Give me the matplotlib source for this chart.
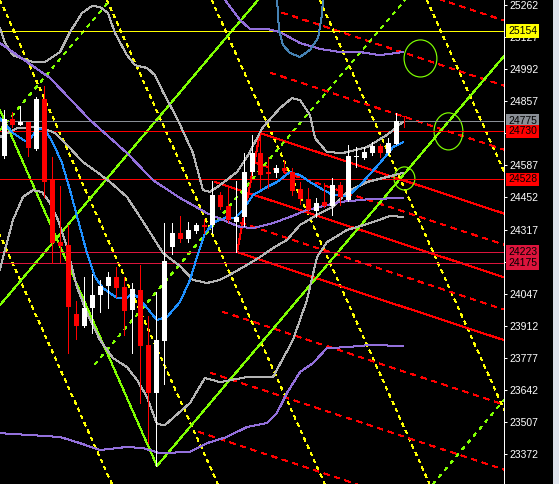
import matplotlib
matplotlib.use("Agg")
import matplotlib.pyplot as plt
from matplotlib.patches import Ellipse, Rectangle

# price range shown and bar range
top_price = 25283
bottom_price = 23246
first_bar = -0.56
last_bar = 62.44

# ---- candles (bar 50 is the forming bar) ----
opens = [24626, 24782, 24757, 24770, 24656, 24866, 24525, 24264, 24252, 23961,
         23911, 23987, 24041, 24079, 24117, 24075, 23978, 24062, 23831, 23629,
         23848, 24243, 24302, 24277, 24311, 24336, 24336, 24462, 24416, 24349,
         24370, 24559, 24639, 24559, 24555, 24576, 24559, 24487, 24445, 24395,
         24433, 24416, 24504, 24441, 24622, 24618, 24639, 24668, 24639, 24677,
         24795]
highs = [24820, 24812, 24837, 24770, 24875, 24921, 24622, 24500, 24336, 24016,
         24117, 24130, 24105, 24138, 24159, 24117, 24092, 24168, 23953, 24054,
         24344, 24344, 24374, 24349, 24344, 24361, 24521, 24475, 24492, 24521,
         24639, 24715, 24723, 24622, 24589, 24610, 24576, 24517, 24492, 24450,
         24513, 24534, 24517, 24673, 24664, 24664, 24685, 24677, 24702, 24807,
         24795]
lows = [24620, 24748, 24757, 24626, 24652, 24454, 24176, 24180, 23797, 23856,
        23907, 23881, 23970, 23987, 24033, 23873, 23797, 23587, 23418, 23322,
        23667, 24214, 24264, 24264, 24302, 24302, 24302, 24403, 24349, 24222,
        24332, 24546, 24492, 24492, 24538, 24555, 24462, 24424, 24386, 24370,
        24412, 24378, 24420, 24437, 24580, 24614, 24631, 24622, 24635, 24677,
        24748]
closes = [24782, 24757, 24770, 24660, 24866, 24517, 24260, 24248, 23991, 23911,
          23987, 24041, 24079, 24117, 24071, 23974, 24067, 23827, 23629, 23852,
          24185, 24302, 24277, 24315, 24336, 24328, 24462, 24412, 24357, 24370,
          24559, 24639, 24546, 24551, 24576, 24563, 24479, 24445, 24399, 24429,
          24416, 24504, 24454, 24626, 24626, 24643, 24668, 24639, 24681, 24774,
          24791]

# ---- indicator lines (bar, price) ----
bb_up_x = [-0.56, 0.06, 1.06, 3.56, 5.06, 6.94, 8.19, 9.69, 10.94, 11.94, 12.94, 13.81,
           15.31, 16.31, 17.81, 18.81, 19.81, 21.56, 23.56, 24.81, 25.69, 26.94, 29.06,
           30.31, 32.31, 34.44, 35.94, 36.94, 38.19, 38.81, 40.31, 42.31, 45.31, 47.81, 49.81]
bb_up_y = [25165, 25102, 25051, 25022, 25022, 25064, 25148, 25228, 25258, 25254, 25228, 25144,
           25051, 25009, 24997, 24967, 24896, 24786, 24639, 24483, 24475, 24504, 24559,
           24622, 24748, 24828, 24870, 24862, 24799, 24702, 24643, 24639, 24664, 24715, 24770]

bb_mid_x = [-0.56, 1.56, 3.56, 4.81, 6.31, 7.81, 9.81, 11.56, 13.19, 15.31, 16.94, 18.56,
            19.81, 21.94, 23.56, 25.31, 26.94, 28.56, 30.31, 31.94, 33.56, 35.31, 36.94,
            39.44, 41.06, 42.81, 45.31, 47.81, 49.81]
bb_mid_y = [24706, 24744, 24748, 24744, 24723, 24673, 24601, 24559, 24517, 24454, 24370, 24285,
            24218, 24163, 24105, 24092, 24105, 24134, 24168, 24201, 24239, 24273, 24336,
            24386, 24412, 24475, 24517, 24538, 24555]

bb_low_x = [-0.56, 0.06, 1.06, 2.31, 3.56, 4.69, 5.69, 6.69, 7.81, 9.06, 10.31, 11.94, 13.56,
            15.31, 16.56, 17.81, 19.06, 20.06, 21.06, 23.19, 25.06, 26.94, 30.31, 33.56,
            36.06, 37.81, 39.06, 40.31, 42.81, 45.69, 48.19, 49.81]
bb_low_y = [24147, 24231, 24357, 24454, 24483, 24475, 24429, 24357, 24243, 24075, 23966, 23852, 23776,
            23738, 23684, 23612, 23498, 23494, 23524, 23587, 23692, 23675, 23696, 23696,
            23852, 24020, 24201, 24264, 24315, 24344, 24374, 24370]

ma_x = [-0.56, 1.06, 2.56, 2.94, 3.56, 4.19, 5.06, 6.06, 7.19, 8.19, 9.19, 10.31, 11.31, 12.31,
        14.06, 15.31, 15.94, 16.69, 17.81, 19.06, 20.31, 21.94, 23.19, 24.06, 25.06, 26.31,
        27.81, 28.81, 29.81, 31.06, 32.81, 34.06, 35.69, 36.94, 38.19, 39.44, 41.06, 42.94,
        44.44, 46.94, 48.56, 49.81]
ma_y = [24786, 24723, 24690, 24685, 24715, 24740, 24740, 24681, 24597, 24483, 24357, 24218, 24117, 24071,
        24029, 24029, 24046, 24033, 23987, 23936, 23949, 24012, 24105, 24201, 24302, 24349,
        24370, 24365, 24399, 24462, 24496, 24517, 24559, 24546, 24517, 24492, 24462, 24458,
        24504, 24597, 24664, 24685]

long_mid_x = [-0.56, 2.81, 5.69, 10.69, 15.31, 18.56, 21.94, 25.31, 27.31, 29.44, 31.06, 33.56,
              35.69, 37.81, 40.31, 41.94, 45.69, 49.81]
long_mid_y = [25102, 25022, 24955, 24778, 24639, 24525, 24450, 24386, 24357, 24328, 24323, 24344,
              24370, 24399, 24420, 24433, 24445, 24450]

long_up_x = [26.69, 27.56, 29.44, 30.69, 32.81, 34.44, 36.94, 39.44, 41.94, 44.44, 46.94, 49.81]
long_up_y = [25346, 25283, 25199, 25161, 25161, 25148, 25102, 25077, 25064, 25064, 25051, 25064]

long_low_x = [-0.56, 3.19, 6.94, 9.44, 11.94, 15.31, 17.31, 19.44, 23.19, 25.31, 27.81, 30.31,
              32.81, 34.06, 35.31, 36.94, 38.56, 40.31, 42.81, 45.69, 49.81]
long_low_y = [23460, 23452, 23444, 23418, 23389, 23402, 23397, 23376, 23381, 23418, 23444, 23486,
              23503, 23545, 23629, 23717, 23755, 23818, 23822, 23831, 23827]

steel_x = [34.06, 34.31, 34.81, 35.69, 36.94, 38.19, 39.19, 39.69, 39.81]
steel_y = [25291, 25157, 25094, 25060, 25043, 25073, 25123, 25220, 25291]

# ---- drawn objects ----
levels = [25154, 24775, 24730, 24528, 24223, 24175]
level_colors = ['#ffff00', '#8a8f96', '#ff0000', '#ff0000', '#dc143c', '#dc143c']

# yellow dotted fan: bar where each line leaves the top edge, price drop per bar
yellow_top_x = [-13.8, -0.56, 12.8, 25.9, 39.4, 52.8]
yellow_drop = 74.8

# red channel: start points and price change per bar
red_slope = -11.1
red_dash_x = [36.3, 34.7, 33.25, 31.0, 29.5, 27.26, 25.74, 24.26]
red_dash_p = [25487, 25230, 24977, 24602, 24346, 23971, 23714, 23465]
red_solid_x = [31.94, 26.31, 29.06]
red_solid_p = [24723, 24517, 24222]
red_pivot_x = [29.06, 31.94]
red_pivot_p = [24222, 24723]

# green lines: (bar1, price1, bar2, price2)
green_solid = [(-0.56, 24820, 19.06, 23322),
               (-0.56, 23999, 31.69, 25283),
               (19.06, 23322, 62.44, 25047)]
green_dashed = [(-0.56, 24736, 13.19, 25283),
                (11.31, 23751, 50.06, 25283),
                (53.56, 23246, 62.44, 23599)]

circle_x = [52.0, 55.5, 50.0]
circle_p = [25037, 24730, 24532]
circle_w = [4.1, 3.6, 2.6]
circle_h = [156, 156, 97]

ticks = [25262, 25127, 24992, 24857, 24722, 24587, 24452, 24317, 24182,
         24047, 23912, 23777, 23642, 23507, 23372]
# 24722 and 24182 sit fully under the price tags
tick_labels = ['25262', '25127', '24992', '24857', '', '24587', '24452', '24317', '',
               '24047', '23912', '23777', '23642', '23507', '23372']

plt.rcParams['lines.scale_dashes'] = False
plt.rcParams['lines.antialiased'] = False
plt.rcParams['patch.antialiased'] = False
plt.rcParams['font.family'] = ['Liberation Sans', 'DejaVu Sans']

fig = plt.figure(figsize=(5.59, 4.84), dpi=100, facecolor='black')
ax = fig.add_axes([0, 0, 504 / 559, 1])
ax.set_facecolor('black')
fig.add_artist(Rectangle((553 / 559, 0), 6 / 559, 1, transform=fig.transFigure,
                         fc='#dfe4ec', ec='none'))

px = 0.72  # one pixel in points

# horizontal levels
for lv, col in zip(levels, level_colors):
    ax.axhline(lv, color=col, lw=px, zorder=2)

# yellow dotted lines
for xt in yellow_top_x:
    xb = xt + (top_price - bottom_price) / yellow_drop
    ax.plot([xt, xb], [top_price, bottom_price], color='#ffff00', lw=px,
            ls=(0, (2.2, 2.9)), zorder=1)

# red channel
for xs, ps in zip(red_dash_x, red_dash_p):
    ax.plot([xs, last_bar], [ps, ps + red_slope * (last_bar - xs)], color='#ff0000',
            lw=px, ls=(0, (3.6, 3.6)), zorder=1)
for xs, ps in zip(red_solid_x, red_solid_p):
    ax.plot([xs, last_bar], [ps, ps + red_slope * (last_bar - xs)], color='#ff0000',
            lw=px, zorder=1)
ax.plot(red_pivot_x, red_pivot_p, color='#ff0000', lw=px, zorder=1)

# green lines
for x1, p1, x2, p2 in green_solid:
    ax.plot([x1, x2], [p1, p2], color='#7fff00', lw=px, zorder=1)
for x1, p1, x2, p2 in green_dashed:
    ax.plot([x1, x2], [p1, p2], color='#7fff00', lw=px, ls=(0, (2.2, 3.6)), zorder=1)
for cx, cp, w, h in zip(circle_x, circle_p, circle_w, circle_h):
    ax.add_patch(Ellipse((cx, cp), w, h, fill=False, ec='#7fff00', lw=px * 1.2, zorder=1,
                         antialiased=True))

# indicators
ax.plot(bb_up_x, bb_up_y, color='#b4b4b4', lw=px, zorder=2)
ax.plot(bb_mid_x, bb_mid_y, color='#b4b4b4', lw=px, zorder=2)
ax.plot(bb_low_x, bb_low_y, color='#b4b4b4', lw=px, zorder=2)
ax.plot(ma_x, ma_y, color='#1e90ff', lw=px, zorder=2)
ax.plot(long_mid_x, long_mid_y, color='#9370db', lw=px, zorder=2)
ax.plot(long_up_x, long_up_y, color='#9370db', lw=px, zorder=2)
ax.plot(long_low_x, long_low_y, color='#9370db', lw=px, zorder=2)
ax.plot(steel_x, steel_y, color='#4682b4', lw=px, zorder=2)

# candles
for i, (o, h, l, c) in enumerate(zip(opens, highs, lows, closes)):
    col = 'white' if c >= o else '#ff0000'
    ax.vlines(i, l, h, color=col, lw=px, zorder=3, antialiased=False)
    ax.bar(i, max(abs(c - o), 4.5), width=0.62, bottom=min(o, c), color=col,
           linewidth=0, zorder=3)

ax.set_xlim(first_bar, last_bar)
ax.set_ylim(bottom_price, top_price)
ax.set_xticks([])
ax.yaxis.tick_right()
ax.set_yticks(ticks)
ax.set_yticklabels(tick_labels)
ax.tick_params(axis='y', colors='white', length=3 * px, width=px, pad=1.5, labelsize=7.5)
for side in ['top', 'left', 'bottom']:
    ax.spines[side].set_visible(False)
ax.spines['right'].set_color('white')
ax.spines['right'].set_linewidth(px)

# price tags on the right scale
for lv, col in zip(levels, level_colors):
    ax.text(1.0 + 4 / 504, lv, str(lv), transform=ax.get_yaxis_transform(),
            ha='left', va='center', fontsize=7.5, color='black', zorder=10, clip_on=False,
            bbox=dict(boxstyle='square,pad=0.18', fc=col, ec='none'))

fig.savefig('out.png', dpi=100, facecolor='black')
